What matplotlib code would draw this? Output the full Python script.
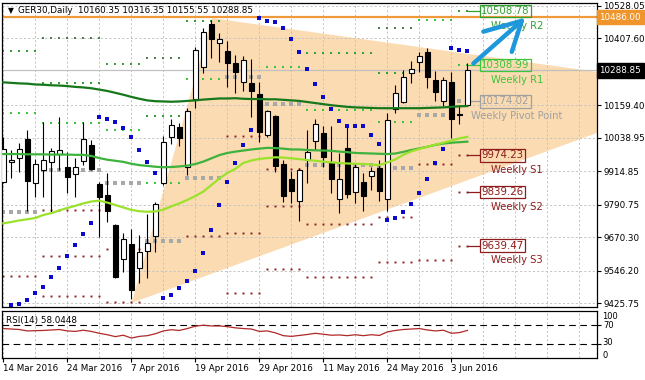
import matplotlib
matplotlib.use('Agg')
import matplotlib.pyplot as plt
import matplotlib.transforms as mtransforms
from matplotlib.patches import Polygon

# ---------------- data ----------------
opens = [9876, 9948, 9963, 10035, 9873, 9920, 9951, 9979, 9932, 9905,
         9953, 10013, 9868, 9827, 9716, 9589, 9644, 9555, 9621, 9676,
         9870, 10041, 10078, 9932, 10183, 10303, 10461, 10392, 10361, 10318,
         10247, 10244, 10202, 10050, 10120, 9942, 9887, 9806, 9957, 10029,
         10056, 9951, 9811, 10000, 9840, 9874, 9899, 9926, 9811, 10145,
         10173, 10281, 10322, 10356, 10254, 10177, 10247, 10126, 10160.35]
highs = [10043, 9994, 10021, 10068, 9959, 10097, 10003, 10115, 9985, 9963,
         10099, 10031, 9877, 9907, 9720, 9685, 9700, 9679, 9755, 9802,
         10046, 10108, 10095, 10149, 10375, 10445, 10476, 10427, 10399, 10346,
         10343, 10330, 10247, 10142, 10124, 9957, 9917, 9926, 10068, 10109,
         10083, 10083, 9984, 10078, 9945, 9907, 9932, 9957, 10130, 10235,
         10291, 10324, 10356, 10371, 10287, 10263, 10284, 10161, 10316.35]
lows = [9870, 9889, 9914, 9769, 9821, 9821, 9759, 9920, 9833, 9821,
        9938, 9920, 9673, 9728, 9518, 9540, 9442, 9502, 9521, 9617,
        9864, 10015, 10009, 9901, 10149, 10278, 10334, 10322, 10226, 10207,
        10214, 10118, 10025, 10043, 9914, 9802, 9796, 9732, 9873, 9994,
        9932, 9833, 9759, 9815, 9796, 9769, 9846, 9805, 9769, 10130,
        10170, 10241, 10284, 10223, 10177, 10157, 10037, 10090, 10155.55]
closes = [9996, 9957, 9996, 9880, 9942, 9957, 9990, 9994, 9895, 9932,
          10036, 9924, 9819, 9769, 9524, 9664, 9475, 9617, 9648, 9793,
          10022, 10085, 10040, 10139, 10365, 10432, 10404, 10406, 10318, 10284,
          10328, 10214, 10062, 10139, 9936, 9823, 9842, 9920, 9985, 10090,
          9969, 9887, 9885, 9830, 9930, 9825, 9916, 9842, 10105, 10204,
          10263, 10294, 10343, 10266, 10210, 10254, 10108, 10124, 10288.85]

ma_dark = [10245, 10243, 10241, 10240, 10237, 10236, 10234, 10233, 10231, 10228,
           10226, 10223, 10218, 10213, 10206, 10199, 10191, 10184, 10178, 10175,
           10174, 10173, 10174, 10176, 10178, 10181, 10183, 10185, 10185, 10186,
           10184, 10183, 10183, 10182, 10182, 10180, 10178, 10176, 10172, 10168,
           10164, 10160, 10157, 10154, 10152, 10151, 10150, 10149, 10149, 10149,
           10149, 10149, 10149, 10150, 10151, 10152, 10154, 10156, 10157]
ma_mid = [9979, 9979, 9979, 9978, 9978, 9978, 9977, 9977, 9977, 9976,
          9976, 9972, 9964, 9958, 9954, 9950, 9943, 9938, 9935, 9932,
          9930, 9931, 9933, 9936, 9942, 9951, 9963, 9975, 9983, 9988,
          9992, 9996, 9999, 10002, 10001, 9999, 9996, 9996, 9994, 9993,
          9992, 9991, 9988, 9986, 9983, 9982, 9981, 9980, 9979, 9981,
          9987, 9994, 10000, 10006, 10013, 10018, 10021, 10023, 10025]
ma_lime = [9722, 9727, 9733, 9737, 9742, 9753, 9760, 9770, 9779, 9787,
           9796, 9803, 9806, 9799, 9790, 9781, 9772, 9767, 9765, 9766,
           9773, 9785, 9796, 9809, 9823, 9840, 9864, 9888, 9909, 9924,
           9946, 9955, 9961, 9964, 9967, 9966, 9963, 9960, 9957, 9954,
           9951, 9948, 9946, 9944, 9943, 9942, 9940, 9938, 9948, 9959,
           9976, 9989, 9998, 10006, 10014, 10021, 10029, 10037, 10043]
sar = [None, 9419, 9423, 9438, 9463, 9487, 9524, 9558, 9602, 9642,
       9683, 9722, 10118, 10109, 10098, 10077, 10043, 9994, 9948, 9908,
       9446, 9456, 9483, 9508, 9545, 9613, 9697, 9790, 9877, 9947,
       10013, 10068, 10484, 10474, 10468, 10445, 10405, 10356, 10294, 10239,
       10189, 10145, 10102, 10083, 10083, 10083, 10050, 10016, 9734, 9741,
       9764, 9794, 9834, 9887, 9945, 9998, 10371, 10365, 10361]
rsi = [62, 61, 60, 57, 57.5, 58, 59, 60, 57, 56,
       58.5, 56, 52, 49, 45, 48, 42, 45.5, 47, 51,
       57, 59.5, 58, 62, 67, 69, 67.5, 67.5, 66, 63.5,
       62, 61, 56, 57, 53, 47, 45.5, 47.5, 49.5, 52,
       50, 48, 48.5, 47, 49, 47, 49, 47.5, 55, 58,
       60, 61, 62, 59, 57, 58.5, 52, 53.5, 58.0448]

date_idx = [0, 8, 16, 24, 32, 40, 48, 56]
date_labels = ['14 Mar 2016', '24 Mar 2016', '7 Apr 2016', '19 Apr 2016',
               '29 Apr 2016', '11 May 2016', '24 May 2016', '3 Jun 2016']
price_ticks = [10528.05, 10407.60, 10159.40, 10038.95, 9914.85,
               9790.75, 9670.30, 9546.20, 9425.75]
bid_price = 10288.85
alert_price = 10486.00

# weekly pivot levels (segments of bars)
seg_start = [0, 5, 13, 18, 23, 28, 33, 38, 47, 52, 57]
seg_end = [4, 12, 17, 22, 27, 32, 37, 46, 51, 56, 58]
r3 = [None, 10410, None, 10336, None, None, None, None, 10445, None, None]
r2 = [10361, 10241, 10312, 10120, 10473, None, 10540, 10355, 10278, None, 10508.78]
r1 = [10130, 10093, 10068, 9873, 10257, None, 10303, 10142, 10099, 10476, 10308.99]
pp = [9765, 9920, 9871, 9658, 9889, 10264, 10163, 9938, 9926, 10124, 10174.02]
s1 = [9528, 9772, 9626, None, 9676, 10046, 9924, 9720, 9747, 9942, 9974.23]
s2 = [None, 9602, 9432, None, None, 9687, 9788, 9522, 9580, 9586, 9839.26]
s3 = [None, 9454, None, None, None, 9465, 9552, None, None, None, 9639.47]

cur_names = ['Weekly R2', 'Weekly R1', 'Weekly Pivot Point',
             'Weekly S1', 'Weekly S2', 'Weekly S3']
cur_values = [10508.78, 10308.99, 10174.02, 9974.23, 9839.26, 9639.47]

tri_x = [16.05, 26.1, 89.3]
tri_y = [9427, 10483, 10221]
arrow_shaft_x = [58.75, 64.8]
arrow_shaft_y = [10315, 10473]
arrow_head_x = [60.0, 64.8, 63.55]
arrow_head_y = [10433, 10473, 10358]

# ---------------- figure ----------------
W, H = 645, 380
fig = plt.figure(figsize=(W / 100, H / 100), dpi=100)
fig.patch.set_facecolor('white')
ax = fig.add_axes([2 / W, 1 - 306.5 / H, 595 / W, 303.5 / H])
ax2 = fig.add_axes([2 / W, 1 - 358 / H, 595 / W, 47.5 / H])

XMIN, XMAX = -0.16, 74.2
ax.set_xlim(XMIN, XMAX)
ax.set_ylim(9413.7, 10539.1)

GRID_C = '#C4C4C4'
GRID_LS = (0, (2.2, 2.2))
for g in range(0, 75, 4):
    ax.axvline(g, color=GRID_C, ls=GRID_LS, lw=0.7, zorder=0.5)
    ax2.axvline(g, color=GRID_C, ls=GRID_LS, lw=0.7, zorder=0.5)
for v in price_ticks:
    ax.axhline(v, color=GRID_C, ls=GRID_LS, lw=0.7, zorder=0.5)

# triangle
ax.add_patch(Polygon(list(zip(tri_x, tri_y)), closed=True, fc='#FBDBB2',
                     ec='none', zorder=0.2))

# bid and alert lines
ax.axhline(bid_price, color='#C0C0C0', lw=0.9, zorder=0.8)
ax.axhline(alert_price, color='#EE9A3A', lw=1.6, zorder=0.9)

# pivot dots
lvl_styles = [(r3, '#4E7F4E', 1.5, 's'), (r2, '#34A034', 1.5, 's'),
              (r1, '#3CC43C', 1.5, 's'), (pp, '#A8A8A8', 2.4, 's'),
              (s1, '#8E1C1C', 1.4, 's'), (s2, '#8E1C1C', 1.4, 's'),
              (s3, '#8E1C1C', 1.4, 's')]
for levels, col, ms, mk in lvl_styles:
    for a, b, lv in zip(seg_start, seg_end, levels):
        if lv is None:
            continue
        xs = list(range(a, b + 1))
        ax.plot(xs, [lv] * len(xs), ls='none', marker=mk, ms=ms, mew=0,
                color=col, zorder=2)

# moving averages
idx = list(range(len(closes)))
ax.plot(idx, ma_dark, color='#16781A', lw=1.6, zorder=4.5)
ax.plot(idx, ma_mid, color='#3DB23D', lw=1.6, zorder=4.5)
ax.plot(idx, ma_lime, color='#9BE22C', lw=1.6, zorder=4.5)

# candles
ax.vlines(idx, lows, highs, color='black', lw=0.8, zorder=3)
for i, (o, c) in enumerate(zip(opens, closes)):
    lo, hi = min(o, c), max(o, c)
    h = max(hi - lo, 1.5)
    fc = 'white' if c >= o else 'black'
    ax.bar(i, h, bottom=lo, width=0.62, color=fc, edgecolor='black',
           lw=0.8, zorder=3.5)

# parabolic SAR
sx = [i for i, v in enumerate(sar) if v is not None]
sy = [v for v in sar if v is not None]
ax.plot(sx, sy, ls='none', marker='s', ms=2.2, mew=0, color='#0A0AC8', zorder=5)

# current week labels
cur_cols = ['#34A034', '#3CC43C', '#A0A0A0', '#8E1C1C', '#8E1C1C', '#8E1C1C']
for name, val, col in zip(cur_names, cur_values, cur_cols):
    ax.plot([58.1, 59.45], [val, val], color=col, lw=0.9, zorder=2)
    ax.text(59.75, val, '%.2f' % val, color=col, fontsize=7.4, va='center',
            ha='left', zorder=6,
            bbox=dict(boxstyle='square,pad=0.12', fc='none', ec=col, lw=0.9))
    ax.text(64.2, val - 55, name, color=col, fontsize=7.2, va='center',
            ha='center', zorder=6)

# arrow
ax.plot(arrow_shaft_x, arrow_shaft_y, color='#1E98DA', lw=3.2,
        solid_capstyle='round', zorder=7)
ax.plot(arrow_head_x, arrow_head_y, color='#1E98DA', lw=3.2,
        solid_capstyle='round', solid_joinstyle='round', zorder=7)

# axis styling main
ax.set_xticks([])
ax.yaxis.tick_right()
ax.set_yticks(price_ticks)
ax.set_yticklabels(['%.2f' % v for v in price_ticks])
ax.tick_params(axis='y', length=3, width=0.8, pad=1.5, labelsize=6.3,
               colors='black')
for sp in ax.spines.values():
    sp.set_color('black')
    sp.set_linewidth(0.9)

trans = mtransforms.blended_transform_factory(ax.transAxes, ax.transData)
ax.text(1.004, bid_price, '10288.85', transform=trans, color='white',
        fontsize=6.3, va='center', ha='left', clip_on=False, zorder=8,
        bbox=dict(boxstyle='square,pad=0.3', fc='black', ec='black'))
ax.text(1.004, alert_price, '10486.00', transform=trans, color='white',
        fontsize=6.3, va='center', ha='left', clip_on=False, zorder=8,
        bbox=dict(boxstyle='square,pad=0.3', fc='#F0952C', ec='#F0952C'))

# title
ax.text(0.010, 0.974, '\u25BC', transform=ax.transAxes, fontsize=5.5,
        va='center', ha='left', color='black', zorder=8)
ax.text(0.027, 0.974, 'GER30,Daily  10160.35 10316.35 10155.55 10288.85',
        transform=ax.transAxes, fontsize=6.3, va='center', ha='left',
        color='black', zorder=8)

# ---------------- RSI ----------------
ax2.set_xlim(XMIN, XMAX)
ax2.set_ylim(0, 100)
ax2.axhline(70, color='black', lw=0.8, ls=(0, (6, 4)))
ax2.axhline(30, color='black', lw=0.8, ls=(0, (6, 4)))
ax2.plot(idx, rsi, color='#B02828', lw=0.9, zorder=3)
ax2.text(0.007, 0.80, 'RSI(14) 58.0448', transform=ax2.transAxes,
         fontsize=6.3, va='center', ha='left')
ax2.set_xticks(date_idx)
ax2.set_xticklabels(date_labels)
for lbl in ax2.get_xticklabels():
    lbl.set_horizontalalignment('left')
ax2.tick_params(axis='x', length=3, width=0.8, pad=1.5, labelsize=6.3)
ax2.yaxis.tick_right()
ax2.set_yticks([70, 30])
ax2.set_yticklabels(['70', ''])
ax2.tick_params(axis='y', length=3, width=0.8, pad=1.5, labelsize=6.0)
trans2 = mtransforms.blended_transform_factory(ax2.transAxes, ax2.transData)
ax2.text(1.0085, 87, '100', transform=trans2, fontsize=6.0, va='center',
         ha='left', clip_on=False)
ax2.text(1.0085, 33, '30', transform=trans2, fontsize=6.0, va='center',
         ha='left', clip_on=False)
ax2.text(1.0085, 6, '0', transform=trans2, fontsize=6.0, va='center',
         ha='left', clip_on=False)
for sp in ax2.spines.values():
    sp.set_color('black')
    sp.set_linewidth(0.9)

fig.savefig('out.png', dpi=100)
